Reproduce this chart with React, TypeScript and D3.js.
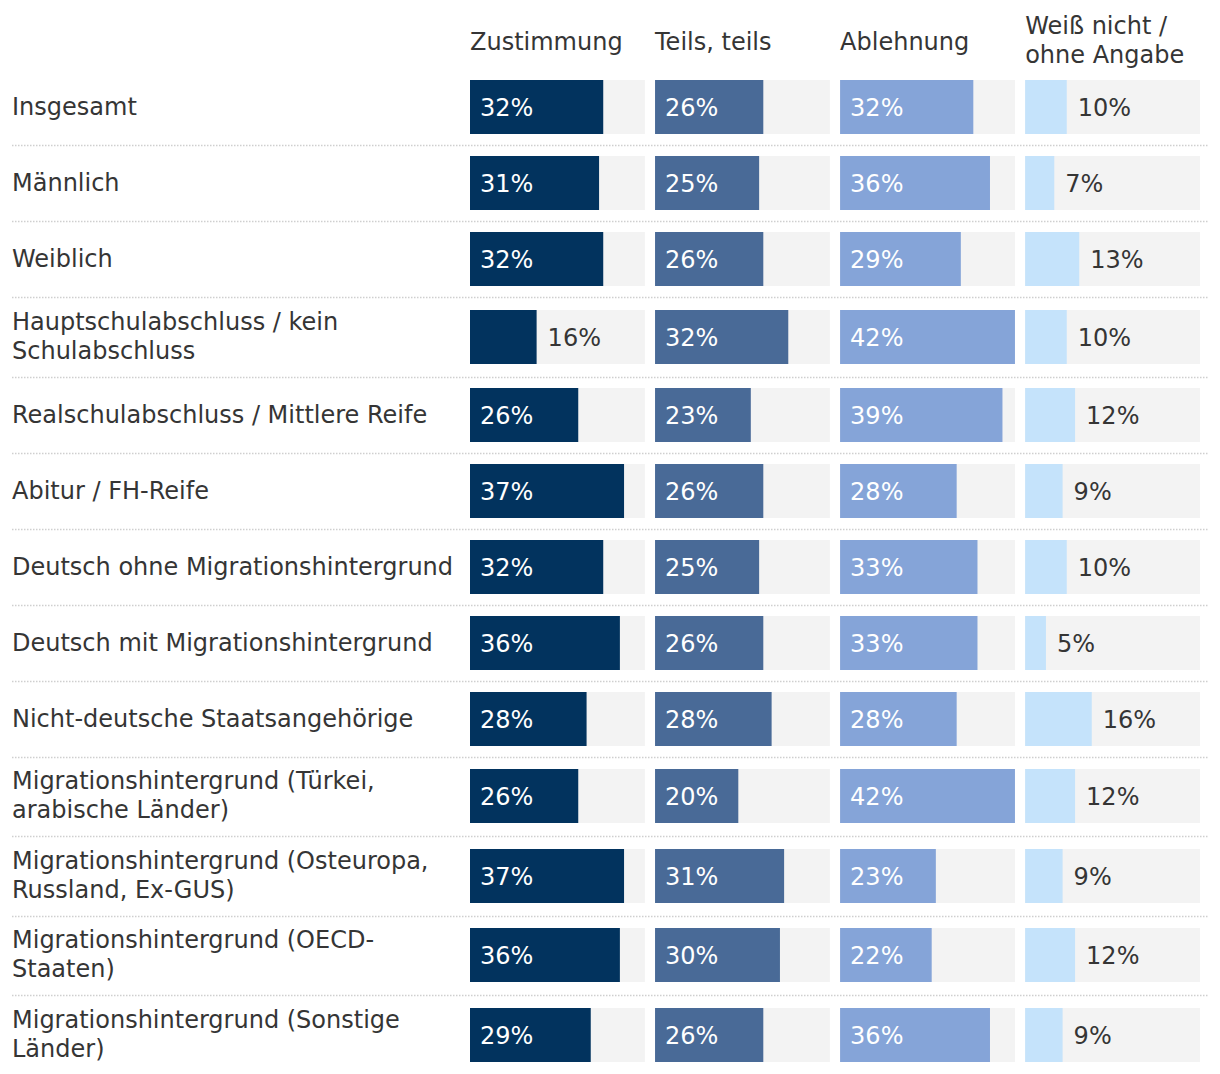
import React from "react";
import * as d3 from "d3";

const categories: string[] = [
  "Insgesamt",
  "Männlich",
  "Weiblich",
  "Hauptschulabschluss / kein\nSchulabschluss",
  "Realschulabschluss / Mittlere Reife",
  "Abitur / FH-Reife",
  "Deutsch ohne Migrationshintergrund",
  "Deutsch mit Migrationshintergrund",
  "Nicht-deutsche Staatsangehörige",
  "Migrationshintergrund (Türkei,\narabische Länder)",
  "Migrationshintergrund (Osteuropa,\nRussland, Ex-GUS)",
  "Migrationshintergrund (OECD-\nStaaten)",
  "Migrationshintergrund (Sonstige\nLänder)",
];

const seriesNames: string[] = ["Zustimmung", "Teils, teils", "Ablehnung", "Weiß nicht /\nohne Angabe"];

const zustimmung: number[] = [32, 31, 32, 16, 26, 37, 32, 36, 28, 26, 37, 36, 29];
const teilsTeils: number[] = [26, 25, 26, 32, 23, 26, 25, 26, 28, 20, 31, 30, 26];
const ablehnung: number[] = [32, 36, 29, 42, 39, 28, 33, 33, 28, 42, 23, 22, 36];
const weissNicht: number[] = [10, 7, 13, 10, 12, 9, 10, 5, 16, 12, 9, 12, 9];

const seriesColors: string[] = ["#02335e", "#496a97", "#85a4d8", "#c5e3fb"];

const W = 1220;
const H = 1074;
const FONT = "'DejaVu Sans', Verdana, sans-serif";
const FS = 24;
const TEXT = "#353535";

export default function App() {
  const series = [zustimmung, teilsTeils, ablehnung, weissNicht];

  const col = d3
    .scaleBand<string>()
    .domain(seriesNames)
    .range([470, 1200])
    .paddingInner(0.055);

  const x = d3.scaleLinear().domain([0, 42]).range([0, col.bandwidth()]);

  const barH = 54;
  const gap = 22;
  const firstTop = 80;

  // row layout
  const rows: { top: number; h: number; lines: string[] }[] = [];
  let t = firstTop;
  categories.forEach((c) => {
    const lines = c.split("\n");
    const h = lines.length > 1 ? 57.5 : 54;
    rows.push({ top: t, h, lines });
    t += h + gap;
  });

  return (
    <svg
      width={W}
      height={H}
      style={{ position: "absolute", left: 0, top: 0, display: "block", background: "#fff" }}
      fontFamily={FONT}
    >
      {/* headers */}
      {seriesNames.map((s) => {
        const lines = s.split("\n");
        return (
          <text key={s} x={col(s)} fill={TEXT} fontSize={FS}>
            {lines.map((l, i) => (
              <tspan key={i} x={col(s)} y={lines.length > 1 ? 34 + i * 29 : 50}>
                {l}
              </tspan>
            ))}
          </text>
        );
      })}

      {rows.map((r, ri) => {
        const barTop = Math.round(r.top + (r.h - barH) / 2);
        const cy = barTop + barH / 2;
        const n = r.lines.length;
        const sepY = Math.round(r.top + r.h + gap / 2) + 0.5;
        return (
          <g key={ri}>
            {ri < rows.length - 1 && (
              <line
                x1={12}
                x2={1208}
                y1={sepY}
                y2={sepY}
                stroke="#cfcfcf"
                strokeWidth={1.5}
                strokeDasharray="1.5,1.5"
              />
            )}
            <text fill={TEXT} fontSize={FS}>
              {r.lines.map((l, i) => (
                <tspan key={i} x={12} y={cy + 7.5 - ((n - 1) * 29) / 2 + i * 29}>
                  {l}
                </tspan>
              ))}
            </text>
            {seriesNames.map((s, si) => {
              const v = series[si][ri];
              const x0 = col(s) as number;
              const w = x(v);
              const inside = v >= 20 && si < 3;
              return (
                <g key={s}>
                  <rect x={x0} y={barTop} width={col.bandwidth()} height={barH} fill="#f3f3f3" />
                  <rect x={x0} y={barTop} width={w} height={barH} fill={seriesColors[si]} />
                  <text
                    x={inside ? x0 + 10 : x0 + w + 11}
                    y={cy + 8.5}
                    fontSize={FS}
                    fill={inside ? "#ffffff" : TEXT}
                  >
                    {v}%
                  </text>
                </g>
              );
            })}
          </g>
        );
      })}
    </svg>
  );
}
